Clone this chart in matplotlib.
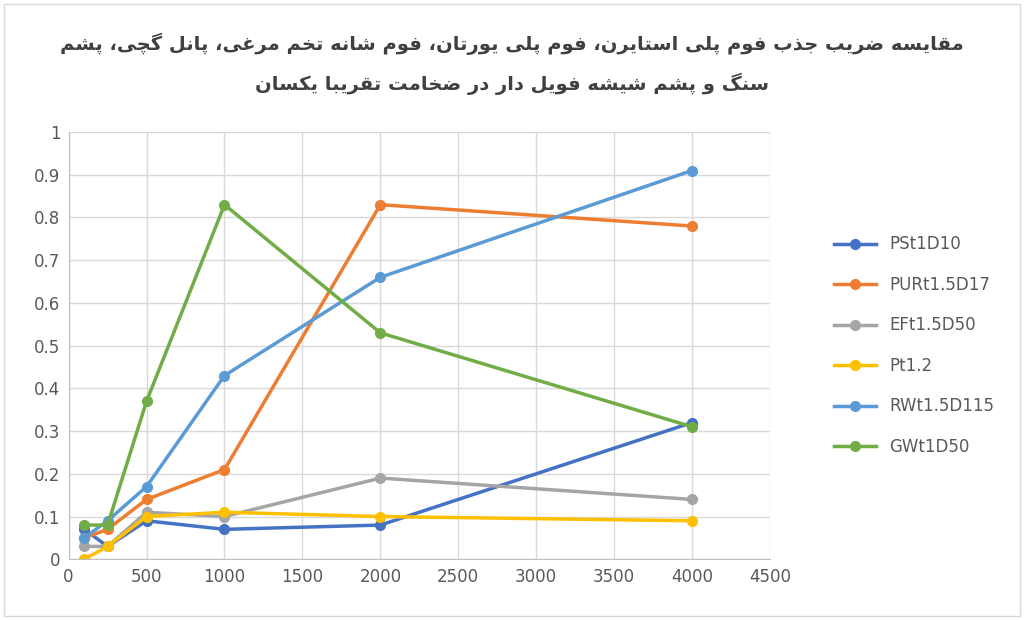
import matplotlib
matplotlib.use("Agg")
import matplotlib.pyplot as plt

x = [100, 250, 500, 1000, 2000, 4000]
series = {
    "PSt1D10": [0.07, 0.03, 0.09, 0.07, 0.08, 0.32],
    "PURt1.5D17": [0.05, 0.07, 0.14, 0.21, 0.83, 0.78],
    "EFt1.5D50": [0.03, 0.03, 0.11, 0.10, 0.19, 0.14],
    "Pt1.2": [0.00, 0.03, 0.10, 0.11, 0.10, 0.09],
    "RWt1.5D115": [0.05, 0.09, 0.17, 0.43, 0.66, 0.91],
    "GWt1D50": [0.08, 0.08, 0.37, 0.83, 0.53, 0.31],
}
colors = ["#4472C4", "#ED7D31", "#A5A5A5", "#FFC000", "#5B9BD5", "#70AD47"]
title_lines = ["مقایسه ضریب جذب فوم پلی استایرن، فوم پلی یورتان، فوم شانه تخم مرغی، پانل گچی، پشم",
               "سنگ و پشم شیشه فویل دار در ضخامت تقریبا یکسان"]

# simple Persian shaping (no shaping engine available)
FORMS = {
    "ا": (0xFE8D, 0xFE8E), "د": (0xFEA9, 0xFEAA), "ذ": (0xFEAB, 0xFEAC),
    "ر": (0xFEAD, 0xFEAE), "ز": (0xFEAF, 0xFEB0), "و": (0xFEED, 0xFEEE),
    "ب": (0xFE8F, 0xFE90, 0xFE91, 0xFE92), "پ": (0xFB56, 0xFB57, 0xFB58, 0xFB59),
    "ت": (0xFE95, 0xFE96, 0xFE97, 0xFE98), "ج": (0xFE9D, 0xFE9E, 0xFE9F, 0xFEA0),
    "چ": (0xFB7A, 0xFB7B, 0xFB7C, 0xFB7D), "خ": (0xFEA5, 0xFEA6, 0xFEA7, 0xFEA8),
    "س": (0xFEB1, 0xFEB2, 0xFEB3, 0xFEB4), "ش": (0xFEB5, 0xFEB6, 0xFEB7, 0xFEB8),
    "ض": (0xFEBD, 0xFEBE, 0xFEBF, 0xFEC0), "غ": (0xFECD, 0xFECE, 0xFECF, 0xFED0),
    "ف": (0xFED1, 0xFED2, 0xFED3, 0xFED4), "ق": (0xFED5, 0xFED6, 0xFED7, 0xFED8),
    "ک": (0xFB8E, 0xFB8F, 0xFB90, 0xFB91), "گ": (0xFB92, 0xFB93, 0xFB94, 0xFB95),
    "ل": (0xFEDD, 0xFEDE, 0xFEDF, 0xFEE0), "م": (0xFEE1, 0xFEE2, 0xFEE3, 0xFEE4),
    "ن": (0xFEE5, 0xFEE6, 0xFEE7, 0xFEE8), "ه": (0xFEE9, 0xFEEA, 0xFEEB, 0xFEEC),
    "ی": (0xFBFC, 0xFBFD, 0xFBFE, 0xFBFF),
}


def shape(s):
    out = []
    for i, c in enumerate(s):
        f = FORMS.get(c)
        if f is None:
            out.append(c)
            continue
        prev = s[i - 1] if i > 0 else ""
        nxt = s[i + 1] if i + 1 < len(s) else ""
        join_prev = prev in FORMS and len(FORMS[prev]) == 4
        join_next = len(f) == 4 and nxt in FORMS
        if join_prev and join_next:
            out.append(chr(f[3]))
        elif join_prev:
            out.append(chr(f[1]))
        elif join_next:
            out.append(chr(f[2]))
        else:
            out.append(chr(f[0]))
    return "".join(out)[::-1]


fig = plt.figure(figsize=(10.24, 6.2), dpi=100)
ax = fig.add_axes([0.067, 0.098, 0.685, 0.689])
for (name, vals), c in zip(series.items(), colors):
    ax.plot(x, vals, color=c, lw=2.5, marker="o", ms=7, label=name)
ax.set_xlim(0, 4500)
ax.set_ylim(0, 1)
ax.set_xticks(range(0, 4501, 500))
ax.set_yticks([i / 10 for i in range(11)])
ax.set_yticklabels(["0"] + [f"{i/10:g}" for i in range(1, 10)] + ["1"])
ax.grid(color="#D9D9D9", lw=1)
ax.set_axisbelow(True)
for s in ["top", "right"]:
    ax.spines[s].set_visible(False)
for s in ["left", "bottom"]:
    ax.spines[s].set_color("#BFBFBF")
ax.tick_params(length=0, labelsize=12, colors="#595959", pad=6)
ax.legend(loc="center left", bbox_to_anchor=(1.07, 0.5), frameon=False,
          fontsize=12, labelspacing=1.35, handlelength=2.5, labelcolor="#595959")
fig.text(0.5, 0.93, shape(title_lines[0]), ha="center", va="center",
         fontsize=14, fontweight="bold", color="#404040", family=["DejaVu Sans"])
fig.text(0.5, 0.865, shape(title_lines[1]), ha="center", va="center",
         fontsize=14, fontweight="bold", color="#404040", family=["DejaVu Sans"])
fig.patches.append(plt.Rectangle((0.004, 0.006), 0.992, 0.988, transform=fig.transFigure,
                                 fill=False, ec="#D9D9D9", lw=1))
fig.savefig("out.png", dpi=100)
